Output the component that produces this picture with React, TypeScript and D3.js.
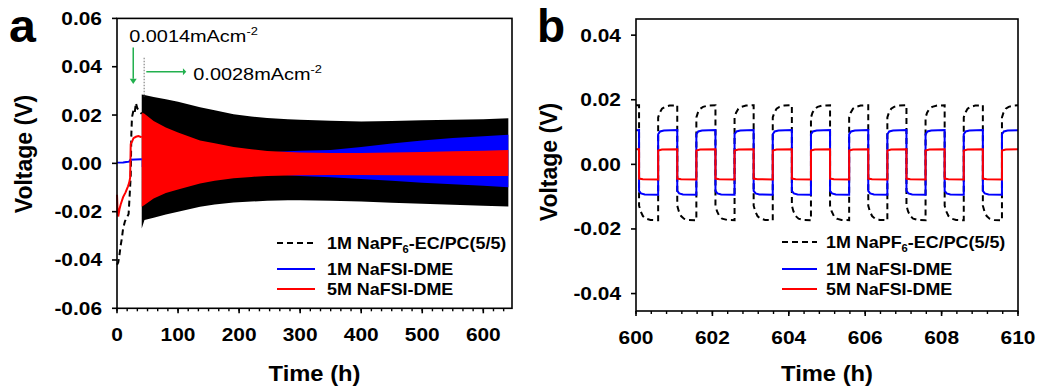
import React from "react";
import * as d3 from "d3";

const W = 1053;
const H = 391;
const FONT = "'Liberation Sans', Arial, Helvetica, sans-serif";
const GREEN = "#22b04e";

// ---------- tick labels ----------
const aXTicks = [0, 100, 200, 300, 400, 500, 600];
const aYTicks = [-0.06, -0.04, -0.02, 0, 0.02, 0.04, 0.06];
const bXTicks = [600, 602, 604, 606, 608, 610];
const bYTicks = [-0.04, -0.02, 0, 0.02, 0.04];

// ---------- panel a: first 40 h (0.0014 mA cm-2) ----------
const aBlackPre: [number, number][] = [
  [0, -0.042], [2, -0.041], [4, -0.038], [6, -0.034], [8, -0.031], [10, -0.027],
  [13, -0.024], [16, -0.0225], [19, -0.021], [21, -0.012], [22.5, -0.005],
  [23.5, 0.012], [24.5, 0.019], [27, 0.022], [29, 0.021], [31, 0.025], [33, 0.023],
  [35, 0.022], [37, 0.0215], [40.5, 0.0205],
];
const aRedPre: [number, number][] = [
  [0, -0.013], [1, -0.02], [2, -0.022], [4, -0.019], [6, -0.017], [10, -0.014],
  [14, -0.012], [18, -0.0095], [20, -0.008], [21.5, -0.006], [22.5, 0.008],
  [25, 0.0092], [27, 0.0104], [31, 0.011], [35, 0.0113], [40.5, 0.0108],
];
const aBluePre: [number, number][] = [
  [0, 0.0003], [10, 0.0004], [15, 0.0006], [20, 0.0007], [22, 0.0015], [30, 0.0016], [40.5, 0.0017],
];

// ---------- panel a: cycling envelopes (0.0028 mA cm-2) ----------
const aBandT = [40.5, 45, 60, 80, 100, 136, 160, 191, 220, 246, 280, 300, 350, 400, 450, 500, 550, 600, 641];
const aBlackUp = [0.0285, 0.0283, 0.0275, 0.0265, 0.0255, 0.0232, 0.022, 0.0203, 0.0194, 0.0188, 0.0183, 0.018, 0.0176, 0.0173, 0.0175, 0.0178, 0.018, 0.0183, 0.0187];
const aBlackLo = [-0.027, -0.0235, -0.0225, -0.0212, -0.02, -0.018, -0.017, -0.0162, -0.0158, -0.0155, -0.0153, -0.0153, -0.0155, -0.0158, -0.0163, -0.0167, -0.0171, -0.0175, -0.0179];
const aBlueUp = [0.002, 0.0021, 0.0023, 0.0025, 0.0027, 0.003, 0.0033, 0.0037, 0.0041, 0.0045, 0.005, 0.0052, 0.0055, 0.0068, 0.0082, 0.0095, 0.0105, 0.0112, 0.0118];
const aBlueLo = [-0.0015, -0.0016, -0.0018, -0.002, -0.0023, -0.0027, -0.003, -0.0035, -0.004, -0.0044, -0.0049, -0.0052, -0.0058, -0.0065, -0.0072, -0.008, -0.0087, -0.0093, -0.0099];
const aRedUp = [0.021, 0.0205, 0.0175, 0.0148, 0.0128, 0.0095, 0.0083, 0.0068, 0.0058, 0.0051, 0.0047, 0.0045, 0.0043, 0.0043, 0.0045, 0.0047, 0.005, 0.0052, 0.0055];
const aRedLo = [-0.018, -0.0172, -0.0145, -0.0123, -0.0108, -0.0083, -0.0072, -0.0062, -0.0056, -0.0052, -0.005, -0.0049, -0.0048, -0.0048, -0.0049, -0.005, -0.0051, -0.0052, -0.0052];

// ---------- panel b: 600-610 h ----------
const bSwitchTimes = [600.08, 600.58, 601.08, 601.58, 602.08, 602.58, 603.08, 603.58, 604.08, 604.58,
  605.08, 605.58, 606.08, 606.58, 607.08, 607.58, 608.08, 608.58, 609.08, 609.58];
const bHalf = 0.5;
// per half-cycle shapes: [fraction of half-cycle, voltage]
const bBlackHigh: [number, number][] = [[0, 0.0145], [0.08, 0.016], [0.2, 0.0172], [0.35, 0.0178], [0.6, 0.0182], [1, 0.0183]];
const bBlackLow: [number, number][] = [[0, -0.0128], [0.08, -0.0145], [0.2, -0.016], [0.35, -0.0168], [0.6, -0.0172], [1, -0.0173]];
const bBlueHigh: [number, number][] = [[0, 0.0093], [0.1, 0.0102], [0.3, 0.0105], [1, 0.0106]];
const bBlueLow: [number, number][] = [[0, -0.0082], [0.1, -0.009], [0.3, -0.0093], [1, -0.0094]];
const bRedHigh: [number, number][] = [[0, 0.0043], [0.2, 0.0046], [1, 0.0047]];
const bRedLow: [number, number][] = [[0, -0.0044], [0.2, -0.0046], [1, -0.0047]];

const legendItems = [
  { key: "pf6", color: "#000", dash: "6,4" },
  { key: "fsi1", color: "#0000ff", dash: "" },
  { key: "fsi5", color: "#ff0000", dash: "" },
];

function buildWave(high: [number, number][], low: [number, number][], t0: number, t1: number): [number, number][] {
  const bounds = [t0, ...bSwitchTimes, t1];
  const pts: [number, number][] = [];
  for (let i = 0; i < bounds.length - 1; i++) {
    const a = bounds[i];
    const b = bounds[i + 1];
    const isHigh = i % 2 === 0;
    const prof = isHigh ? high : low;
    const f = d3.scaleLinear().domain(prof.map((p) => p[0])).range(prof.map((p) => p[1])).clamp(true);
    const start = i === 0 ? b - bHalf : a;
    pts.push([a, f((a - start) / bHalf)]);
    prof.forEach((p) => {
      const t = start + p[0] * bHalf;
      if (t > a && t < b) pts.push([t, p[1]]);
    });
    pts.push([b, f((b - start) / bHalf)]);
  }
  return pts;
}

function SText(props: {
  x: number; y: number; size: number; children: any; sx?: number; weight?: string | number;
  anchor?: string; fill?: string; rotate?: number;
}) {
  const { x, y, size, children, sx = 1.12, weight = "bold", anchor = "middle", fill = "#000", rotate = 0 } = props;
  return (
    <text
      transform={`translate(${x},${y}) rotate(${rotate}) scale(${sx},1)`}
      fontSize={size}
      fontWeight={weight}
      textAnchor={anchor as any}
      fontFamily={FONT}
      fill={fill}
    >
      {children}
    </text>
  );
}

function Frame(props: {
  x: d3.ScaleLinear<number, number>; y: d3.ScaleLinear<number, number>;
  xMajor: number[]; xMinor: number[]; yMajor: number[];
  xFmt: (v: number) => string; yFmt: (v: number) => string;
}) {
  const { x, y, xMajor, xMinor, yMajor, xFmt, yFmt } = props;
  const [x0, x1] = x.range();
  const [y0, y1] = y.range(); // y0 bottom, y1 top
  return (
    <g>
      <rect x={x0} y={y1} width={x1 - x0} height={y0 - y1} fill="none" stroke="#000" strokeWidth={1.6} />
      {xMinor.map((v, i) => (
        <line key={"xm" + i} x1={x(v)} x2={x(v)} y1={y0} y2={y0 + 3} stroke="#000" strokeWidth={1.4} />
      ))}
      {xMajor.map((v) => (
        <g key={"xM" + v}>
          <line x1={x(v)} x2={x(v)} y1={y0} y2={y0 + 5} stroke="#000" strokeWidth={1.6} />
          <SText x={x(v)} y={y0 + 33} size={19} sx={1.1}>{xFmt(v)}</SText>
        </g>
      ))}
      {yMajor.map((v) => (
        <g key={"yM" + v}>
          <line x1={x0 - 5} x2={x0} y1={y(v)} y2={y(v)} stroke="#000" strokeWidth={1.6} />
          <SText x={x0 - 15} y={y(v) + 6.5} size={18.5} sx={1.13} anchor="end">{yFmt(v)}</SText>
        </g>
      ))}
    </g>
  );
}

function Legend(props: { x0: number; x1: number; tx: number; rows: number[] }) {
  const { x0, x1, tx, rows } = props;
  return (
    <g>
      {legendItems.map((it, i) => (
        <line key={it.key} x1={x0} x2={x1} y1={rows[i]} y2={rows[i]} stroke={it.color} strokeWidth={2}
          strokeDasharray={it.dash || undefined} />
      ))}
      <SText x={tx} y={rows[0] + 5.5} size={16} anchor="start">
        1M NaPF<tspan fontSize={10} dy={4}>6</tspan><tspan dy={-4}>-EC/PC(5/5)</tspan>
      </SText>
      <SText x={tx} y={rows[1] + 5.5} size={16} anchor="start">1M NaFSI-DME</SText>
      <SText x={tx} y={rows[2] + 5.5} size={16} anchor="start">5M NaFSI-DME</SText>
    </g>
  );
}

export default function App() {
  // panel a scales
  const xa = d3.scaleLinear().domain([0, 647]).range([117, 512]);
  const ya = d3.scaleLinear().domain([-0.06, 0.06]).range([308.3, 18.4]);
  // panel b scales
  const xb = d3.scaleLinear().domain([600, 610]).range([636, 1018]);
  const yb = d3.scaleLinear().domain([-0.0454, 0.045]).range([311, 19]);

  const fmt2 = (v: number) => (Math.abs(v) < 1e-9 ? "0.00" : d3.format(".2f")(v).replace("−", "-"));
  const fmt0 = (v: number) => String(v);

  const aMinor: number[] = [];
  for (let k = 0; k * 100 / 6 <= 647; k++) aMinor.push(k * 100 / 6);
  const bMinor: number[] = [];
  for (let k = 0; k <= 25; k++) bMinor.push(600 + k * 0.4);

  const lineA = d3.line<[number, number]>().x((d) => xa(d[0])).y((d) => ya(d[1]));
  const band = (up: number[], lo: number[]) =>
    d3.area<number>().x((_, i) => xa(aBandT[i])).y0((_, i) => ya(lo[i])).y1((_, i) => ya(up[i]))(aBandT.map((_, i) => i)) || "";

  const lineB = d3.line<[number, number]>().x((d) => xb(d[0])).y((d) => yb(d[1]));
  const bBlack = buildWave(bBlackHigh, bBlackLow, 600, 610);
  const bBlue = buildWave(bBlueHigh, bBlueLow, 600, 610);
  const bRed = buildWave(bRedHigh, bRedLow, 600, 610);

  return (
    <svg width={W} height={H} style={{ display: "block", position: "absolute", left: 0, top: 0, background: "#fff" }}>
      <rect x={0} y={0} width={W} height={H} fill="#fff" />
      {/* ---------------- panel a ---------------- */}
      <g>
        <path d={band(aBlackUp, aBlackLo)} fill="#000" />
        <path d={band(aBlueUp, aBlueLo)} fill="#0000ff" />
        <path d={band(aRedUp, aRedLo)} fill="#ff0000" />
        <path d={lineA(aBlackPre) || ""} fill="none" stroke="#000" strokeWidth={2} strokeDasharray="6,4" />
        <path d={lineA(aBluePre) || ""} fill="none" stroke="#0000ff" strokeWidth={2} />
        <path d={lineA(aRedPre) || ""} fill="none" stroke="#ff0000" strokeWidth={2} />
        <Frame x={xa} y={ya} xMajor={aXTicks} xMinor={aMinor} yMajor={aYTicks} xFmt={fmt0} yFmt={fmt2} />

        {/* annotations */}
        <line x1={xa(44.5)} x2={xa(44.5)} y1={ya(0.0437)} y2={ya(0.0275)} stroke="#888" strokeWidth={1.2} strokeDasharray="1.5,1.5" />
        <line x1={xa(26.6)} x2={xa(26.6)} y1={ya(0.048)} y2={ya(0.035)} stroke={GREEN} strokeWidth={1.5} />
        <path d={`M${xa(26.6) - 3.5},${ya(0.035)} L${xa(26.6) + 3.5},${ya(0.035)} L${xa(26.6)},${ya(0.0328)} Z`} fill={GREEN} />
        <line x1={xa(48)} x2={xa(108)} y1={ya(0.0379)} y2={ya(0.0379)} stroke={GREEN} strokeWidth={1.5} />
        <path d={`M${xa(108)},${ya(0.0379) - 3.5} L${xa(108)},${ya(0.0379) + 3.5} L${xa(113.5)},${ya(0.0379)} Z`} fill={GREEN} />
        <SText x={xa(20)} y={41.7} size={17} sx={1.17} weight="normal" anchor="start">
          0.0014mAcm<tspan fontSize={11} dy={-7}>-2</tspan>
        </SText>
        <SText x={xa(125)} y={80} size={17} sx={1.17} weight="normal" anchor="start">
          0.0028mAcm<tspan fontSize={11} dy={-7}>-2</tspan>
        </SText>

        <Legend x0={277} x1={315} tx={327} rows={[243, 269, 289]} />

        <SText x={(117 + 512) / 2} y={381} size={22} sx={1.08}>Time (h)</SText>
        <SText x={31.5} y={154} size={23} sx={1} rotate={-90}>Voltage (V)</SText>
        <SText x={9} y={42} size={46} sx={1.05} anchor="start" weight={900}>a</SText>
      </g>

      {/* ---------------- panel b ---------------- */}
      <g>
        <path d={lineB(bBlack) || ""} fill="none" stroke="#000" strokeWidth={2} strokeDasharray="6,4" />
        <path d={lineB(bBlue) || ""} fill="none" stroke="#0000ff" strokeWidth={2} />
        <path d={lineB(bRed) || ""} fill="none" stroke="#ff0000" strokeWidth={2} />
        <Frame x={xb} y={yb} xMajor={bXTicks} xMinor={bMinor} yMajor={bYTicks} xFmt={fmt0} yFmt={fmt2} />
        <Legend x0={782} x1={817} tx={826} rows={[242, 269, 289]} />
        <SText x={(636 + 1018) / 2} y={381} size={22} sx={1.08}>Time (h)</SText>
        <SText x={556.5} y={162} size={23} sx={1} rotate={-90}>Voltage (V)</SText>
        <SText x={537} y={42} size={46} sx={1.0} anchor="start" weight={900}>b</SText>
      </g>
    </svg>
  );
}
